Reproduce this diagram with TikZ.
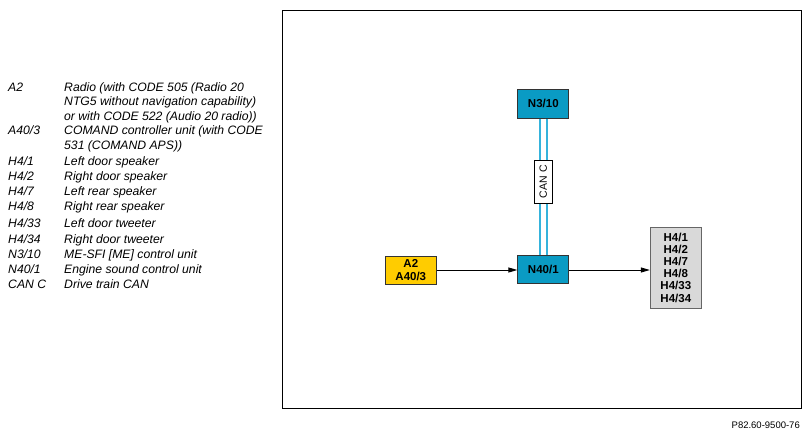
\documentclass[tikz,border=0pt]{standalone}
\usepackage{fontspec}
\setmainfont{Liberation Sans}
\usetikzlibrary{arrows.meta}
\definecolor{ecu}{HTML}{0A9BC4}
\definecolor{canc}{HTML}{35B3DC}
\definecolor{yel}{HTML}{FFCC00}
\definecolor{spk}{HTML}{D9D9D9}
\definecolor{bord}{HTML}{333333}
\tikzset{
  box/.style={draw=bord,line width=0.9pt,font=\fontsize{11.5}{13}\selectfont\bfseries,align=center,inner sep=0pt},
  ecubox/.style={box,fill=ecu,minimum width=51pt,minimum height=28.5pt},
  yelbox/.style={box,fill=yel,minimum width=51pt,minimum height=28pt},
  spkbox/.style={box,fill=spk,draw=gray!80!black,minimum width=51pt,minimum height=81pt,font=\fontsize{11.5}{12.2}\selectfont\bfseries},
  canlbl/.style={draw=black,fill=white,line width=0.6pt,font=\fontsize{10.5}{12}\selectfont,rotate=90,minimum width=43pt,minimum height=17.5pt,inner sep=0pt},
  canline/.style={draw=canc,line width=1.7pt,double=white,double distance=5pt},
  arr/.style={draw=black,line width=0.9pt,-{Triangle[length=9pt,width=5pt]}},
  key/.style={anchor=base west,inner sep=0pt,font=\fontsize{12.2}{15}\selectfont\itshape},
}
\begin{document}
\begin{tikzpicture}[x=1pt,y=-1pt]
\useasboundingbox (0,0) rectangle (811,437);
% frame
\draw[line width=0.8pt] (282,10) rectangle (801,408);
\node[anchor=base east,inner sep=0pt,font=\fontsize{9.5}{10}\selectfont] (ref) at (800,428) {P82.60-9500-76};
% legend
\node[key] (k1) at (8,91) {A2};
\node[key] (d1a) at (64,91) {Radio (with CODE 505 (Radio 20};
\node[key] (d1b) at (64,105.5) {NTG5 without navigation capability)};
\node[key] (d1c) at (64,120) {or with CODE 522 (Audio 20 radio))};
\node[key] (k2) at (8,134.5) {A40/3};
\node[key] (d2a) at (64,134.5) {COMAND controller unit (with CODE};
\node[key] (d2b) at (64,149.5) {531 (COMAND APS))};
\node[key] (k3) at (8,165) {H4/1};
\node[key] (d3) at (64,165) {Left door speaker};
\node[key] (k4) at (8,180) {H4/2};
\node[key] (d4) at (64,180) {Right door speaker};
\node[key] (k5) at (8,195) {H4/7};
\node[key] (d5) at (64,195) {Left rear speaker};
\node[key] (k6) at (8,210) {H4/8};
\node[key] (d6) at (64,210) {Right rear speaker};
\node[key] (k7) at (8,227) {H4/33};
\node[key] (d7) at (64,227) {Left door tweeter};
\node[key] (k8) at (8,243) {H4/34};
\node[key] (d8) at (64,243) {Right door tweeter};
\node[key] (k9) at (8,258) {N3/10};
\node[key] (d9) at (64,258) {ME-SFI [ME] control unit};
\node[key] (k10) at (8,273) {N40/1};
\node[key] (d10) at (64,273) {Engine sound control unit};
\node[key] (k11) at (8,288) {CAN C};
\node[key] (d11) at (64,288) {Drive train CAN};
% diagram
\node[ecubox] (n310) at (543.3,103.8) {N3/10};
\node[ecubox] (n401) at (543.3,269.2) {N40/1};
\node[yelbox] (a2) at (410.8,270) {A2\\A40/3};
\node[spkbox] (h4) at (675.8,267.5) {H4/1\\H4/2\\H4/7\\H4/8\\H4/33\\H4/34};
\draw[canline] (n310.south) -- (n401.north);
\node[canlbl] (can) at (543.3,181.7) {CAN C};
\draw[arr] (a2.east |- 0,270) -- (n401.west |- 0,270);
\draw[arr] (n401.east |- 0,270) -- (h4.west |- 0,270);
\end{tikzpicture}
\end{document}
